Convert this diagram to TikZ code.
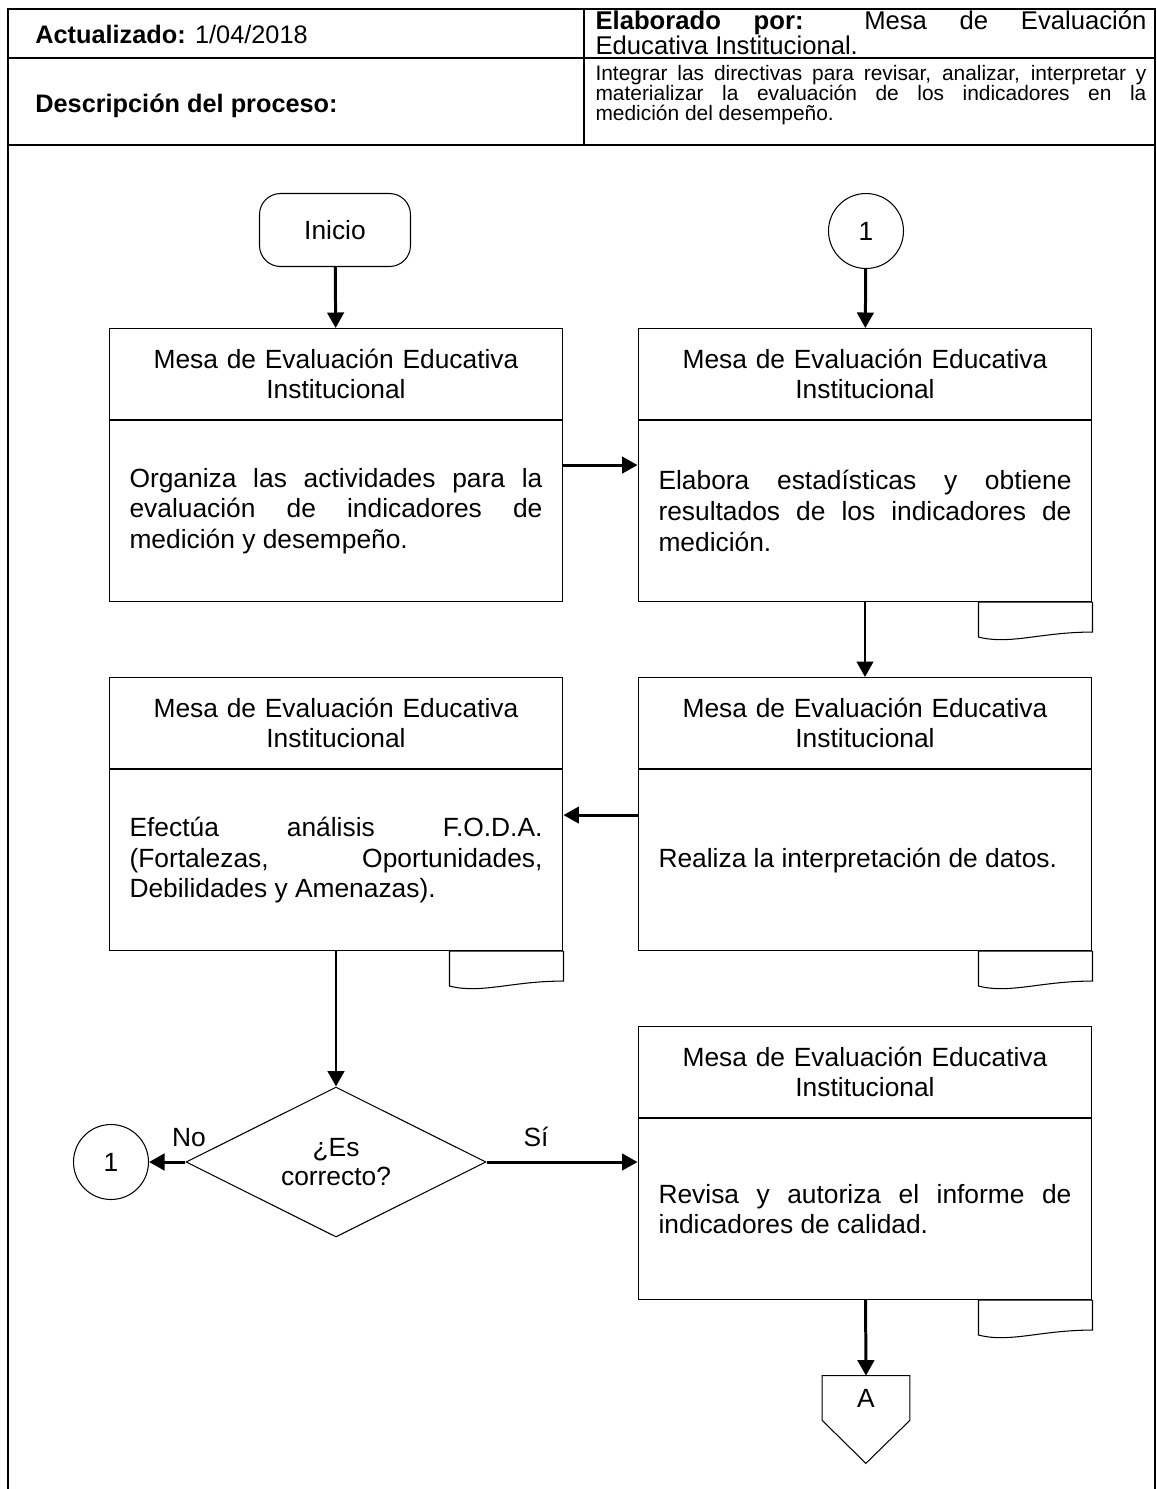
\documentclass[tikz,border=0pt]{standalone}
\usepackage{fontspec}
\setmainfont{Liberation Sans}
\usetikzlibrary{arrows.meta,shapes.geometric}
\tolerance=9999
\hyphenpenalty=10000
\newcommand{\hojadoc}[1]{\draw[line width=0.6pt] (#1.south east) -- ++(0,30) .. controls +(-52,0) and +(32,8) .. ++(-114,5) |- (#1.south east);}

\begin{document}
\begin{tikzpicture}[x=0.02cm,y=-0.02cm,
	flecha/.style={line width=1.7pt,-{Triangle[length=0.31cm,width=0.33cm]}},
	titulo/.style={draw,line width=0.6pt,anchor=north,minimum width=9.08cm,minimum height=1.82cm,inner sep=0pt,text width=8.6cm,align=center,font=\fontsize{15}{17.5}\selectfont},
	cuerpo/.style={draw,line width=0.6pt,anchor=north,minimum width=9.08cm,minimum height=3.62cm,inner sep=0pt,text width=8.26cm,align=justify,font=\fontsize{15}{17.5}\selectfont},
	conector/.style={draw,circle,line width=0.6pt,minimum size=1.5cm,inner sep=0pt,font=\fontsize{15}{17.5}\selectfont}]
			\useasboundingbox (0,0) rectangle (1157,1489);
			%%%%% ENCABEZADO %%%%%
			\draw[line width=0.8pt] (8,9) rectangle (1155,145);
			\draw[line width=0.8pt] (8,58) -- (1155,58);
			\draw[line width=0.8pt] (584,9) -- (584,145);
			\draw[line width=0.8pt] (8,145) -- (8,1489);
			\draw[line width=0.8pt] (1155,145) -- (1155,1489);
			
			\node[anchor=west,inner sep=0pt,font=\fontsize{14.4}{16}\selectfont] (actual) at (35,34) {\textbf{Actualizado:} 1/04/2018};
			\node[anchor=west,inner sep=0pt,font=\fontsize{14.4}{16}\selectfont] (desc) at (35,106) {\textbf{Descripción del proceso:}};
			\node[inner sep=0pt,text width=11.02cm,align=justify,font=\fontsize{14.6}{14.4}\selectfont] (elab) at (871,33) {\textbf{Elaborado por:} Mesa de Evaluación \linebreak Educativa Institucional.};
			\node[inner sep=0pt,text width=11.02cm,align=justify,font=\fontsize{11.9}{11.4}\selectfont] (integ) at (871,95) {Integrar las directivas para revisar, analizar, interpretar y \linebreak materializar la evaluación de los indicadores en la \linebreak medición del desempeño.};
			
			%%%%% INICIO %%%%%
			\node[draw,line width=0.6pt,rounded corners=0.42cm,minimum width=3.02cm,minimum height=1.46cm,font=\fontsize{15}{17.5}\selectfont] (inicio) at (335,230) {Inicio};
			\node[conector] (c1a) at (866,231) {1};
			
			%%%%% FILA 1 %%%%%
			\node[titulo] (b1h) at (336,328) {Mesa de Evaluación Educativa\\Institucional};
			\node[cuerpo] (b1b) at (b1h.south) {Organiza las actividades para la \linebreak evaluación de indicadores de \linebreak medición y desempeño.};
			\node[titulo] (b2h) at (865,328) {Mesa de Evaluación Educativa\\Institucional};
			\node[cuerpo] (b2b) at (b2h.south) {Elabora estadísticas y obtiene \linebreak resultados de los indicadores de \linebreak medición.};
			\hojadoc{b2b}
			
			%%%%% FILA 2 %%%%%
			\node[titulo] (b3h) at (336,677) {Mesa de Evaluación Educativa\\Institucional};
			\node[cuerpo] (b3b) at (b3h.south) {Efectúa análisis F.O.D.A. \linebreak (Fortalezas, Oportunidades, \linebreak Debilidades y Amenazas).};
			\hojadoc{b3b}
			\node[titulo] (b4h) at (865,677) {Mesa de Evaluación Educativa\\Institucional};
			\node[cuerpo] (b4b) at (b4h.south) {Realiza la interpretación de datos.};
			\hojadoc{b4b}
			
			%%%%% DECISION %%%%%
			\node[draw,diamond,aspect=2,line width=0.6pt,minimum width=6cm,minimum height=3cm,inner sep=0pt,align=center,font=\fontsize{15}{16}\selectfont] (dec) at (336,1162) {¿Es\\correcto?};
			\node[conector] (c1b) at (111,1162) {1};
			\node[font=\fontsize{15}{17.5}\selectfont] (lblno) at (189,1138) {No};
			\node[font=\fontsize{15}{17.5}\selectfont] (lblsi) at (536,1137) {Sí};
			
			%%%%% FILA 3 %%%%%
			\node[titulo] (b5h) at (865,1026) {Mesa de Evaluación Educativa\\Institucional};
			\node[cuerpo] (b5b) at (b5h.south) {Revisa y autoriza el informe de \linebreak indicadores de calidad.};
			\hojadoc{b5b}
			
			\node[minimum width=1.74cm,minimum height=0.88cm,inner sep=0pt,font=\fontsize{15}{17.5}\selectfont] (offA) at (866,1398) {A};
			\draw[line width=0.6pt] (offA.north west) -- (offA.north east) -- (offA.south east) -- ++(-44,43) -- (offA.south west) -- cycle;
			
			%%%%% FLECHAS %%%%%
			\draw[flecha] (inicio) -- (b1h);
			\draw[flecha] (c1a) -- (b2h);
			\draw[flecha] ([yshift=0.92cm]b1b.east) -- ([yshift=0.92cm]b2b.west);
			\draw[flecha] (b2b) -- (b4h);
			\draw[flecha] ([yshift=0.9cm]b4b.west) -- ([yshift=0.9cm]b3b.east);
			\draw[flecha] (b3b) -- (dec);
			\draw[flecha] (dec) -- (c1b);
			\draw[flecha] (dec.east) -- (dec.east -| b5b.west);
			\draw[flecha] (b5b) -- (offA.north);
\end{tikzpicture}
\end{document}
